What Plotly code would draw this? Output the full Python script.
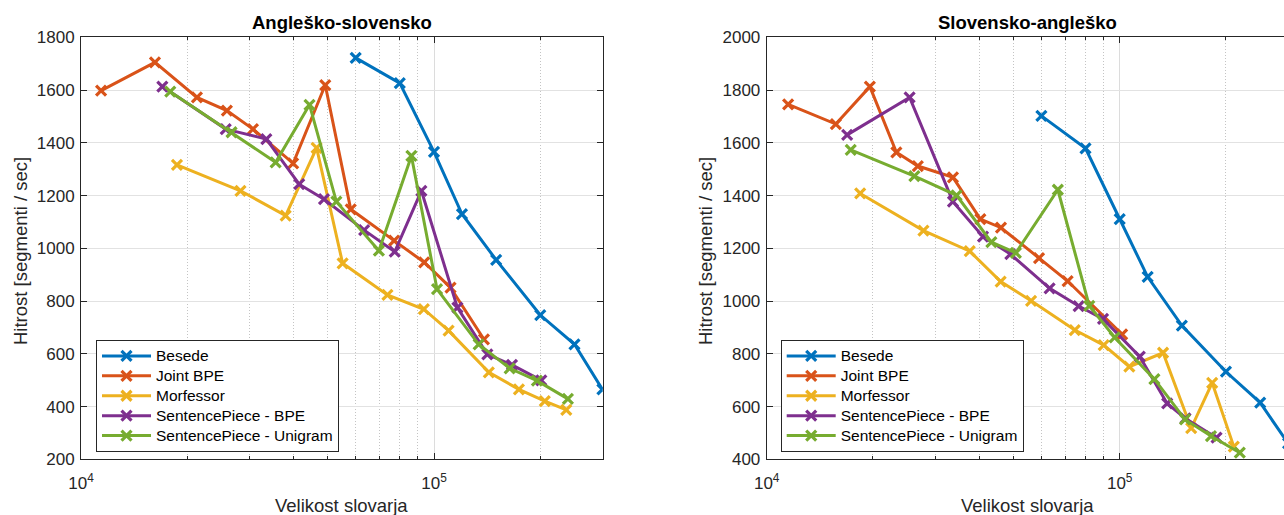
import plotly.graph_objects as go

# ---- Angleško-slovensko ----
bes_l_x = [6.0e4, 8.0e4, 1.0e5, 1.2e5, 1.5e5, 2.0e5, 2.5e5, 3.0e5]
bes_l_y = [1722, 1626, 1366, 1130, 956, 747, 636, 465]

jbpe_l_x = [1.14e4, 1.62e4, 2.13e4, 2.59e4, 3.07e4, 3.99e4, 4.92e4, 5.81e4, 7.71e4, 9.38e4, 1.114e5, 1.385e5]
jbpe_l_y = [1598, 1705, 1572, 1522, 1452, 1322, 1619, 1148, 1029, 947, 851, 655]

morf_l_x = [1.87e4, 2.83e4, 3.80e4, 4.65e4, 5.51e4, 7.38e4, 9.36e4, 1.10e5, 1.43e5, 1.74e5, 2.06e5, 2.37e5]
morf_l_y = [1316, 1218, 1124, 1381, 943, 823, 769, 688, 530, 465, 421, 387]

spbpe_l_x = [1.70e4, 2.57e4, 3.35e4, 4.15e4, 4.88e4, 6.34e4, 7.74e4, 9.21e4, 1.165e5, 1.416e5, 1.663e5, 2.014e5]
spbpe_l_y = [1613, 1452, 1414, 1243, 1186, 1069, 987, 1218, 775, 598, 558, 499]

spuni_l_x = [1.79e4, 2.67e4, 3.56e4, 4.44e4, 5.29e4, 6.98e4, 8.63e4, 1.02e5, 1.338e5, 1.638e5, 1.957e5, 2.395e5]
spuni_l_y = [1594, 1440, 1326, 1544, 1177, 991, 1350, 845, 636, 545, 498, 429]

# ---- Slovensko-angleško ----
bes_r_x = [6.0e4, 8.0e4, 1.0e5, 1.2e5, 1.5e5, 2.0e5, 2.5e5, 3.0e5]
bes_r_y = [1702, 1579, 1311, 1092, 907, 732, 615, 460]

jbpe_r_x = [1.15e4, 1.57e4, 1.96e4, 2.33e4, 2.68e4, 3.37e4, 4.03e4, 4.61e4, 5.91e4, 7.12e4, 1.016e5]
jbpe_r_y = [1746, 1671, 1813, 1564, 1512, 1469, 1311, 1278, 1163, 1076, 874]

morf_r_x = [1.84e4, 2.78e4, 3.76e4, 4.60e4, 5.61e4, 7.46e4, 9.01e4, 1.065e5, 1.327e5, 1.594e5, 1.828e5, 2.105e5]
morf_r_y = [1408, 1267, 1189, 1074, 1001, 890, 833, 751, 804, 518, 690, 448]

spbpe_r_x = [1.69e4, 2.54e4, 3.37e4, 4.10e4, 4.90e4, 6.33e4, 7.65e4, 8.97e4, 1.14e5, 1.363e5, 1.536e5, 1.881e5]
spbpe_r_y = [1630, 1772, 1377, 1244, 1178, 1048, 981, 932, 789, 612, 555, 482]

spuni_r_x = [1.73e4, 2.62e4, 3.45e4, 4.33e4, 5.08e4, 6.68e4, 8.20e4, 9.68e4, 1.254e5, 1.531e5, 1.814e5, 2.189e5]
spuni_r_y = [1573, 1474, 1401, 1223, 1183, 1422, 982, 862, 704, 551, 488, 425]

names = ["Besede", "Joint BPE", "Morfessor", "SentencePiece - BPE", "SentencePiece - Unigram"]
colors = ["#0072BD", "#D95319", "#EDB120", "#7E2F8E", "#77AC30"]

left_series = [(bes_l_x, bes_l_y), (jbpe_l_x, jbpe_l_y), (morf_l_x, morf_l_y),
               (spbpe_l_x, spbpe_l_y), (spuni_l_x, spuni_l_y)]
right_series = [(bes_r_x, bes_r_y), (jbpe_r_x, jbpe_r_y), (morf_r_x, morf_r_y),
                (spbpe_r_x, spbpe_r_y), (spuni_r_x, spuni_r_y)]

titles = ["Angleško-slovensko", "Slovensko-angleško"]
x_title = "Velikost slovarja"
y_title = "Hitrost [segmenti / sec]"

FONT = "Liberation Sans, Arial, Helvetica, sans-serif"
AX = "#262626"
W, H = 1284, 515

fig = go.Figure()


def add_series(series, xa, ya, legend):
    for (xs, ys), name, col in zip(series, names, colors):
        fig.add_trace(go.Scatter(
            x=xs, y=ys, mode="lines+markers",
            name='<span style="font-size:15.5px">%s</span>' % name,
            xaxis=xa, yaxis=ya, legend=legend,
            line=dict(color=col, width=3),
            marker=dict(symbol="x-thin", size=10, line=dict(color=col, width=3.2)),
        ))


add_series(left_series, "x", "y", "legend")
add_series(right_series, "x2", "y2", "legend2")

# plot-area geometry (pixels)
top_px, bot_px = 37.3, 459.3
l_left, l_right = 81.0, 602.7
r_left = 766.7
decade = 353.0
y_dom = [(H - bot_px) / H, (H - top_px) / H]

minor_vals = [2e4, 3e4, 4e4, 5e4, 6e4, 7e4, 8e4, 9e4, 2e5, 3e5]


def xaxis_cfg(domain, rng, mirror):
    return dict(
        type="log", domain=domain, range=rng, automargin=False,
        tickmode="array", tickvals=[1e4, 1e5],
        ticktext=["10<sup>4</sup>", "10<sup>5</sup>"],
        ticks="inside", ticklen=6, tickwidth=1, tickcolor=AX,
        ticklabelstandoff=8,
        showline=True, linecolor=AX, linewidth=1, mirror=mirror,
        showgrid=True, gridcolor="#dcdcdc", gridwidth=1,
        minor=dict(tickmode="array", tickvals=minor_vals, ticks="inside", ticklen=3,
                   tickcolor=AX, showgrid=True, gridcolor="#c4c4c4", griddash="1px,2px",
                   gridwidth=1),
        tickfont=dict(family=FONT, size=17, color=AX),
        zeroline=False,
    )


def yaxis_cfg(anchor, rng, dtick, mirror):
    return dict(
        anchor=anchor, domain=y_dom, range=rng, dtick=dtick, tick0=0, automargin=False,
        ticks="inside", ticklen=6, tickwidth=1, tickcolor=AX,
        showline=True, linecolor=AX, linewidth=1, mirror=mirror,
        showgrid=True, gridcolor="#e2e2e2", gridwidth=1,
        tickfont=dict(family=FONT, size=17, color=AX),
        ticklabelstandoff=2,
        zeroline=False,
    )


r_max = 4 + (W - r_left) / decade

legend_common = dict(
    yanchor="top", xanchor="left", y=(H - 340) / H,
    bgcolor="white", bordercolor=AX, borderwidth=1,
    font=dict(family=FONT, size=13, color="black"),
    itemwidth=49, tracegroupgap=0,
)

fig.update_layout(
    width=W, height=H,
    margin=dict(l=0, r=0, t=0, b=0, autoexpand=False),
    paper_bgcolor="white", plot_bgcolor="white",
    xaxis=dict(anchor="y", **xaxis_cfg([l_left / W, l_right / W], [4, 4 + (l_right - l_left) / decade], "ticks")),
    yaxis=yaxis_cfg("x", [200, 1800], 200, "ticks"),
    xaxis2=dict(anchor="y2", **xaxis_cfg([r_left / W, 1.0], [4, r_max], "ticks")),
    yaxis2=yaxis_cfg("x2", [400, 2000], 200, False),
    showlegend=True,
    legend=dict(x=96 / W, **legend_common),
    legend2=dict(x=780.7 / W, **legend_common),
)

ann = []
centers = [(l_left + l_right) / 2, (r_left + r_left + (l_right - l_left)) / 2]
for cx, t in zip(centers, titles):
    ann.append(dict(text="<b>%s</b>" % t, x=cx / W, y=(H - 22.5) / H, xref="paper", yref="paper",
                    showarrow=False, xanchor="center", yanchor="middle",
                    font=dict(family=FONT, size=18.5, color="black")))
    ann.append(dict(text=x_title, x=cx / W, y=(H - 505) / H, xref="paper", yref="paper",
                    showarrow=False, xanchor="center", yanchor="middle",
                    font=dict(family=FONT, size=18.5, color=AX)))
for yx in [20, 705]:
    ann.append(dict(text=y_title, x=yx / W, y=(H - 251) / H, xref="paper", yref="paper",
                    showarrow=False, xanchor="center", yanchor="middle", textangle=-90,
                    font=dict(family=FONT, size=18.5, color=AX)))
fig.update_layout(annotations=ann)

fig.write_html("out.html")
